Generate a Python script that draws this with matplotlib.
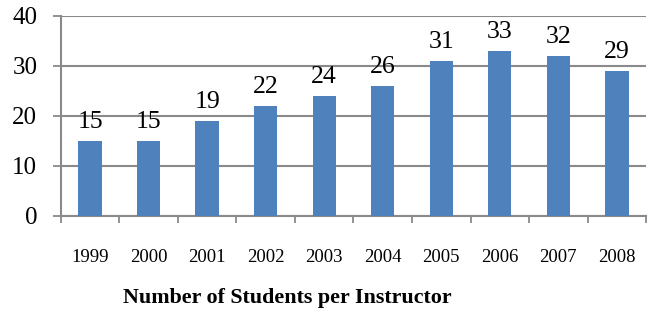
import matplotlib.pyplot as plt
import numpy as np

years = ["1999", "2000", "2001", "2002", "2003", "2004", "2005", "2006", "2007", "2008"]
students = [15, 15, 19, 22, 24, 26, 31, 33, 32, 29]

plt.rcParams["font.family"] = ["Liberation Serif", "DejaVu Serif"]

fig = plt.figure(figsize=(6.48, 3.18), dpi=100)
ax = fig.add_axes([0.094, 0.321, 0.903, 0.629])

x = np.arange(len(years))
ax.bar(x, students, width=0.4, color="#4F81BD", zorder=3)
for xi, v in zip(x, students):
    ax.text(xi, v + 1.5, str(v), ha="center", va="bottom", fontsize=18.5, color="black")

ax.set_xlim(-0.5, len(years) - 0.5)
ax.set_ylim(0, 40)
ax.set_yticks([0, 10, 20, 30, 40])
ax.yaxis.grid(True, color="#8a8a8a", linewidth=1.5, zorder=0)
ax.set_axisbelow(True)

ax.set_xticks(x)
ax.set_xticklabels(years, fontsize=13.5)
ax.set_xticks(np.arange(-0.5, len(years), 1.0), minor=True)
ax.tick_params(axis="x", which="major", length=0, pad=24)
ax.tick_params(axis="x", which="minor", length=5, width=1.3, color="#8a8a8a")
ax.tick_params(axis="y", length=6, width=1.3, color="#8a8a8a", labelsize=18, pad=11)

for side in ["top", "right"]:
    ax.spines[side].set_visible(False)
for side in ["left", "bottom"]:
    ax.spines[side].set_color("#8a8a8a")
    ax.spines[side].set_linewidth(1.5)

fig.text(0.443, 0.064, "Number of Students per Instructor", ha="center", va="center",
         fontsize=15.8, fontweight="bold")

fig.savefig("out.png", dpi=100)
